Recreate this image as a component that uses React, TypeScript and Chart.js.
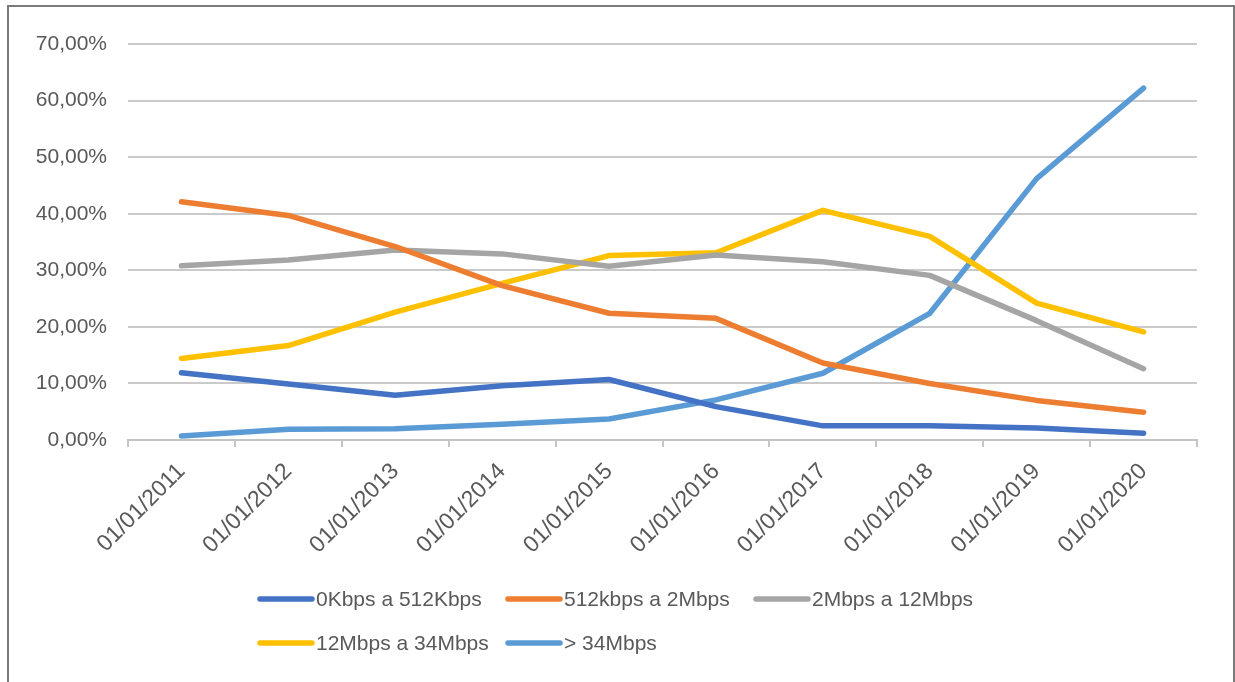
import React, { useEffect, useRef } from "react";
import { Chart, registerables } from "chart.js";

Chart.register(...registerables);

const categories = [
  "01/01/2011", "01/01/2012", "01/01/2013", "01/01/2014", "01/01/2015",
  "01/01/2016", "01/01/2017", "01/01/2018", "01/01/2019", "01/01/2020",
];

const seriesNames = [
  "0Kbps a 512Kbps",
  "512kbps a 2Mbps",
  "2Mbps a 12Mbps",
  "12Mbps a 34Mbps",
  "> 34Mbps",
];

const s0to512k = [11.9, 9.9, 7.9, 9.6, 10.7, 5.9, 2.5, 2.5, 2.1, 1.2];
const s512kto2m = [42.1, 39.7, 34.2, 27.3, 22.4, 21.5, 13.6, 10.0, 7.0, 4.9];
const s2mto12m = [30.8, 31.8, 33.6, 32.9, 30.7, 32.7, 31.5, 29.1, 21.1, 12.6];
const s12mto34m = [14.4, 16.7, 22.6, 27.7, 32.6, 33.1, 40.6, 36.0, 24.2, 19.1];
const sOver34m = [0.7, 1.9, 2.0, 2.8, 3.7, 7.1, 11.8, 22.4, 46.2, 62.2];

const seriesColors = ["#4472C4", "#ED7D31", "#A5A5A5", "#FFC000", "#5B9BD5"];

const yTicks = [0, 10, 20, 30, 40, 50, 60, 70];

const FONT = "'Liberation Sans', Arial, sans-serif";
const TEXT = "#595959";

const legendPlugin = {
  id: "excelLegend",
  afterDraw(chart: any) {
    const ctx = chart.ctx;
    const ds = chart.data.datasets;
    ctx.save();
    ctx.font = `21px ${FONT}`;
    ctx.textBaseline = "middle";
    ctx.textAlign = "left";
    const startX = 258;
    const colW = 248;
    const rowY = [599, 643];
    const perRow = 3;
    ds.forEach((d: any, i: number) => {
      const col = i % perRow;
      const row = Math.floor(i / perRow);
      const x = startX + col * colW;
      const y = rowY[row];
      ctx.strokeStyle = d.borderColor;
      ctx.lineWidth = 5.5;
      ctx.lineCap = "round";
      ctx.beginPath();
      ctx.moveTo(x + 2, y);
      ctx.lineTo(x + 54, y);
      ctx.stroke();
      ctx.fillStyle = TEXT;
      ctx.fillText(d.label, x + 58, y + 1);
    });
    ctx.restore();
  },
};

export default function App() {
  const ref = useRef<HTMLCanvasElement | null>(null);

  useEffect(() => {
    if (!ref.current) return;
    const values = [s0to512k, s512kto2m, s2mto12m, s12mto34m, sOver34m];
    const chart = new Chart(ref.current, {
      type: "line",
      data: {
        labels: categories,
        datasets: seriesNames.map((name, i) => ({
          label: name,
          data: values[i],
          borderColor: seriesColors[i],
          backgroundColor: seriesColors[i],
          borderWidth: 5.5,
          pointRadius: 0,
          pointHoverRadius: 0,
          tension: 0,
          borderCapStyle: "round" as const,
          borderJoinStyle: "round" as const,
          fill: false,
        })),
      },
      options: {
        responsive: false,
        animation: false,
        devicePixelRatio: 1,
        layout: { padding: { left: 0, right: 38, top: 44, bottom: 0 } },
        plugins: {
          legend: { display: false },
          title: { display: false },
          tooltip: { enabled: false },
        },
        scales: {
          x: {
            type: "category",
            offset: true,
            afterFit(scale: any) {
              scale.height = 242;
            },
            grid: {
              offset: true,
              drawOnChartArea: false,
              drawTicks: true,
              tickLength: 7,
              color: "#c4c4c4",
              lineWidth: 2,
            },
            border: { display: true, color: "#c4c4c4", width: 2 },
            ticks: {
              autoSkip: false,
              maxRotation: 45,
              minRotation: 45,
              padding: 11,
              color: TEXT,
              font: { family: FONT, size: 23 },
            },
          },
          y: {
            min: 0,
            max: 70,
            afterFit(scale: any) {
              scale.width = 128;
            },
            afterBuildTicks(scale: any) {
              scale.ticks = yTicks.map((v) => ({ value: v }));
            },
            grid: {
              drawTicks: false,
              color: "#cacaca",
              lineWidth: 2,
            },
            border: { display: false },
            ticks: {
              padding: 21,
              color: TEXT,
              font: { family: FONT, size: 21 },
              callback: (v: any) => Number(v).toFixed(2).replace(".", ",") + "%",
            },
          },
        },
      },
      plugins: [legendPlugin],
    });
    return () => chart.destroy();
  }, []);

  return (
    <div style={{ position: "absolute", left: 0, top: 0, width: 1235, height: 682, overflow: "hidden", background: "#fff" }}>
      <div
        style={{
          position: "absolute",
          left: 7,
          top: 5,
          width: 1224,
          height: 720,
          borderTop: "2px solid #7a7a7a",
          borderLeft: "2px solid #7a7a7a",
          borderRight: "2px solid #7a7a7a",
        }}
      />
      <canvas
        ref={ref}
        width={1235}
        height={682}
        style={{ position: "absolute", left: 0, top: 0, width: 1235, height: 682 }}
      />
    </div>
  );
}
